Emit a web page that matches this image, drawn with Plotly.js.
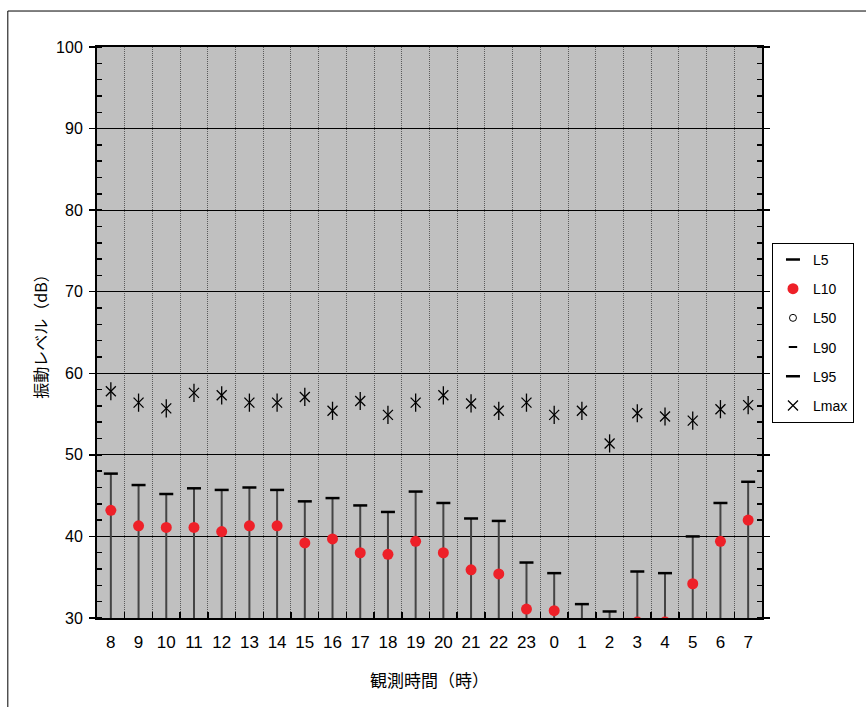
<!DOCTYPE html>
<html>
<head>
<meta charset="utf-8">
<script src="https://cdn.plot.ly/plotly-3.0.1.min.js"></script>
<style>html,body{margin:0;padding:0;background:#fff;}#chart{width:866px;height:707px;}</style>
</head>
<body>
<div id="chart"></div>
<script>
// 観測時間（時）
const hours = ['8','9','10','11','12','13','14','15','16','17','18','19','20','21','22','23','0','1','2','3','4','5','6','7'];
// L5 (dB)
const L5 = [47.7,46.3,45.2,45.9,45.7,46.0,45.7,44.3,44.7,43.8,43.0,45.5,44.1,42.2,41.9,36.8,35.5,31.7,30.8,35.7,35.5,40.0,44.1,46.7];
// L10 (dB)
const L10 = [43.2,41.3,41.1,41.1,40.6,41.3,41.3,39.2,39.7,38.0,37.8,39.4,38.0,35.9,35.4,31.1,30.9,29.0,28.5,29.5,29.5,34.2,39.4,42.0];
// L50, L90, L95 (dB) — all below the 30 dB axis floor, not visible
const L50 = [28,27,27,27,27,27,27,26,26,26,26,26,26,25,25,24,24,23,23,23,23,24,26,27];
const L90 = [26,25,25,25,25,25,25,24,24,24,24,24,24,23,23,22,22,21,21,21,21,22,24,25];
const L95 = [25,24,24,24,24,24,24,23,23,23,23,23,23,22,22,21,21,20,20,20,20,21,23,24];
// Lmax (dB)
const Lmax = [57.8,56.4,55.7,57.6,57.3,56.4,56.4,57.1,55.4,56.6,54.9,56.4,57.3,56.3,55.4,56.4,54.9,55.4,51.4,55.1,54.7,54.2,55.6,56.1];

const drop = L5.map((v,i)=>v - L95[i]);
const zeros = L5.map(()=>0);

const traces = [
  {name:'L5', x:hours, y:L5, type:'scatter', mode:'markers', legendgroup:'a',
   marker:{symbol:'line-ew', size:10, color:'#000', line:{color:'#000', width:2.5}},
   error_y:{type:'data', symmetric:false, array:zeros, arrayminus:drop, color:'#444', thickness:2, width:0}},
  {name:'L10', x:hours, y:L10, type:'scatter', mode:'markers', legendgroup:'b',
   marker:{symbol:'circle', size:11, color:'#ee2028', line:{width:0}}},
  {name:'L50', x:hours, y:L50, type:'scatter', mode:'markers', legendgroup:'c',
   marker:{symbol:'circle-open', size:7, color:'#000', line:{color:'#000', width:1}}},
  {name:'L90', x:hours, y:L90, type:'scatter', mode:'markers', legendgroup:'d',
   marker:{symbol:'line-ew', size:6, color:'#000', line:{color:'#000', width:2}}},
  {name:'L95', x:hours, y:L95, type:'scatter', mode:'markers', legendgroup:'e',
   marker:{symbol:'line-ew', size:10, color:'#000', line:{color:'#000', width:2.5}}},
  {name:'Lmax', x:hours, y:Lmax, type:'scatter', mode:'markers', legendgroup:'f',
   marker:{symbol:'x-thin-open', size:10, color:'#000', line:{color:'#000', width:1.3}}},
  {name:'Lmax', x:hours, y:Lmax, type:'scatter', mode:'markers', legendgroup:'f', showlegend:false,
   marker:{symbol:'line-ns-open', size:13, color:'#000', line:{color:'#000', width:1.3}}}
];

const layout = {
  width:866, height:707,
  margin:{l:97, r:98, t:47, b:89},
  paper_bgcolor:'#fff', plot_bgcolor:'#c0c0c0',
  font:{family:'"Liberation Sans", "Noto Sans CJK JP", sans-serif', color:'#000', size:16},
  showlegend:true,
  legend:{x:1.015, xanchor:'left', y:0.657, yanchor:'top', bgcolor:'#fff', bordercolor:'#000', borderwidth:1,
    font:{size:14, family:'"Liberation Sans", sans-serif'}, tracegroupgap:8, itemwidth:30},
  xaxis:{type:'category', range:[-0.5, 23.5], autorange:false, tickson:'boundaries', showgrid:true,
    gridcolor:'#5a5a5a', griddash:'1px,1px', gridwidth:1,
    ticks:'inside', ticklen:6, tickcolor:'#000', tickwidth:1.5, tickangle:0, ticklabelstandoff:8,
    showline:true, linecolor:'#000', linewidth:2, mirror:true, zeroline:false,
    tickfont:{size:17, family:'"Liberation Sans Narrow", "Liberation Sans", sans-serif'},
    title:{text:'観測時間（時）', font:{size:17, family:'"Noto Sans CJK JP", sans-serif'}, standoff:24}},
  yaxis:{range:[30,100], dtick:10, tick0:0, showgrid:true, gridcolor:'#000', gridwidth:1,
    ticks:'outside', ticklen:6, tickcolor:'#000', tickwidth:1.5, ticklabelstandoff:3,
    minor:{dtick:2, ticks:'inside', ticklen:5, tickcolor:'#000', tickwidth:1.5, showgrid:false},
    showline:true, linecolor:'#000', linewidth:2, mirror:'ticks', zeroline:false,
    tickfont:{size:16},
    title:{text:'振動レベル（dB）', font:{size:16, family:'"Noto Sans CJK JP", sans-serif'}, standoff:4}},
  shapes:[{type:'rect', xref:'paper', yref:'paper', x0:-0.1341, x1:1.16, y0:-0.17, y1:1.063,
    line:{color:'#000', width:1}, fillcolor:'rgba(0,0,0,0)', layer:'below'}]
};

Plotly.newPlot('chart', traces, layout, {displayModeBar:false, staticPlot:true});
</script>
</body>
</html>
